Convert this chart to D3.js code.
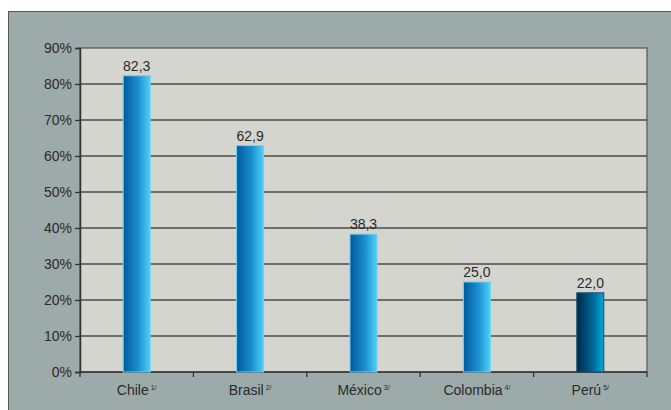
<!DOCTYPE html>
<html>
<head>
<meta charset="utf-8">
<script src="https://cdn.jsdelivr.net/npm/d3@7"></script>
<style>
  body { margin: 0; background: #fff; }
  svg { display: block; font-family: "Liberation Sans", Arial, sans-serif; }
</style>
</head>
<body>
<div id="chart"></div>
<script>
// data
const countries = ["Chile", "Brasil", "México", "Colombia", "Perú"];
const notes = ["1/", "2/", "3/", "4/", "5/"];
const values = [82.3, 62.9, 38.3, 25.0, 22.0];
const yTicks = [0, 10, 20, 30, 40, 50, 60, 70, 80, 90];

const w = 671, h = 410;
const plotLeft = 80, plotRight = 647, plotTop = 48, plotBottom = 372;

const svg = d3.select("#chart").append("svg")
  .attr("width", w).attr("height", h);

// gradients for the bars
const defs = svg.append("defs");
const grad = defs.append("linearGradient").attr("id", "blue");
grad.append("stop").attr("offset", "0%").attr("stop-color", "#005a9c");
grad.append("stop").attr("offset", "55%").attr("stop-color", "#1a8fd0");
grad.append("stop").attr("offset", "100%").attr("stop-color", "#4fd0f5");
const gradDark = defs.append("linearGradient").attr("id", "dark");
gradDark.append("stop").attr("offset", "0%").attr("stop-color", "#002a4a");
gradDark.append("stop").attr("offset", "55%").attr("stop-color", "#00628f");
gradDark.append("stop").attr("offset", "100%").attr("stop-color", "#00a8d8");

// outer frame
svg.append("rect")
  .attr("x", 8.5).attr("y", 11.5)
  .attr("width", w).attr("height", h)
  .attr("fill", "#9caaa9").attr("stroke", "#555").attr("stroke-width", 1);

const x = d3.scaleBand().domain(countries).range([plotLeft, plotRight]);
const y = d3.scaleLinear().domain([0, 90]).range([plotBottom, plotTop]);

// plot background
svg.append("rect")
  .attr("x", plotLeft).attr("y", plotTop)
  .attr("width", plotRight - plotLeft).attr("height", plotBottom - plotTop)
  .attr("fill", "#d5d5d0").attr("stroke", "#555").attr("stroke-width", 1.2);

// gridlines
svg.append("g").selectAll("line")
  .data(yTicks.slice(1, -1))
  .enter().append("line")
  .attr("x1", plotLeft).attr("x2", plotRight)
  .attr("y1", d => y(d)).attr("y2", d => y(d))
  .attr("stroke", "#4a4a4a").attr("stroke-width", 1.3);

// y axis
const yAxis = svg.append("g")
  .attr("transform", `translate(${plotLeft},0)`)
  .call(d3.axisLeft(y).tickValues(yTicks).tickFormat(d => d + "%").tickSize(5).tickPadding(3));
yAxis.select(".domain").attr("stroke", "#333").attr("stroke-width", 1.5);
yAxis.selectAll(".tick line").attr("stroke", "#333").attr("stroke-width", 1.3);
yAxis.selectAll("text").attr("font-size", 14).attr("fill", "#2a2a2a")
  .attr("font-family", "Liberation Sans, Arial, sans-serif");

// x axis ticks at band edges
const xAxis = svg.append("g");
xAxis.append("line")
  .attr("x1", plotLeft).attr("x2", plotRight).attr("y1", plotBottom).attr("y2", plotBottom)
  .attr("stroke", "#333").attr("stroke-width", 1.5);
xAxis.selectAll(".edge")
  .data(countries.map(c => x(c)).concat([plotRight]))
  .enter().append("line")
  .attr("x1", d => d).attr("x2", d => d)
  .attr("y1", plotBottom).attr("y2", plotBottom + 5)
  .attr("stroke", "#333").attr("stroke-width", 1.3);

const labels = xAxis.selectAll(".lab")
  .data(countries)
  .enter().append("text")
  .attr("x", d => x(d) + x.bandwidth() / 2)
  .attr("y", plotBottom + 23)
  .attr("text-anchor", "middle")
  .attr("font-size", 14)
  .attr("fill", "#2a2a2a");
labels.append("tspan").text(d => d);
labels.append("tspan")
  .attr("dy", -5).attr("font-size", 7).attr("dx", 2)
  .text((d, i) => notes[i]);

// bars
const bw = 27;
svg.append("g").selectAll("rect")
  .data(values)
  .enter().append("rect")
  .attr("x", (d, i) => x(countries[i]) + x.bandwidth() / 2 - bw / 2)
  .attr("y", d => y(d))
  .attr("width", bw)
  .attr("height", d => plotBottom - y(d))
  .attr("fill", (d, i) => i === 4 ? "url(#dark)" : "url(#blue)")
  .attr("stroke", (d, i) => i === 4 ? "#1c4d6b" : "#6fd4f4")
  .attr("stroke-width", 1);

// value labels
svg.append("g").selectAll("text")
  .data(values)
  .enter().append("text")
  .attr("x", (d, i) => x(countries[i]) + x.bandwidth() / 2)
  .attr("y", d => y(d) - 5)
  .attr("text-anchor", "middle")
  .attr("font-size", 14)
  .attr("fill", "#2a2a2a")
  .text(d => d3.format(".1f")(d).replace(".", ","));
</script>
</body>
</html>
